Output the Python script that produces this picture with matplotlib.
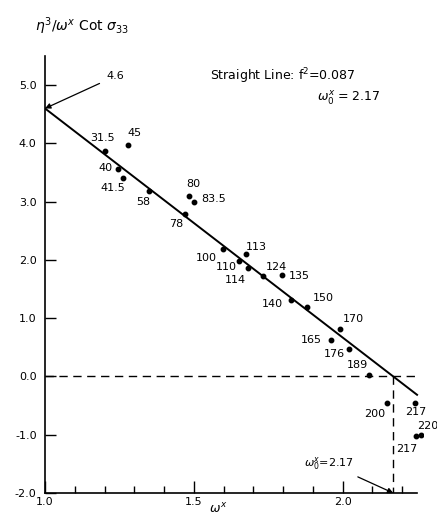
import numpy as np
import matplotlib.pyplot as plt

# values
labels = ['31.5', '45', '40', '41.5', '58', '80', '83.5', '78', '100', '113', '110', '114',
          '124', '135', '140', '150', '170', '165', '176', '189', '200', '217', '220', '217']
omega = [1.201, 1.279, 1.245, 1.262, 1.349, 1.483, 1.500, 1.470, 1.597, 1.674, 1.651, 1.683,
         1.731, 1.795, 1.825, 1.879, 1.990, 1.960, 2.020, 2.087, 2.148, 2.242, 2.262, 2.245]
ratio = [3.87, 3.97, 3.56, 3.40, 3.18, 3.09, 2.99, 2.78, 2.18, 2.10, 1.98, 1.87,
         1.72, 1.74, 1.32, 1.20, 0.82, 0.62, 0.48, 0.03, -0.45, -0.45, -1.00, -1.03]
# label offsets (points) from each point
offs = [(-2, 9), (5, 9), (-9, 1), (-7, -7), (-4, -8), (3, 9), (14, 2), (-6, -7), (-12, -6),
        (8, 5), (-9, -4), (-9, -9), (10, 7), (13, -1), (-13, -3), (12, 6), (10, 7), (-14, 0),
        (-10, -4), (-8, 7), (-9, -8), (1, -7), (5, 6), (-6, -9)]

intercept = 4.6
omega0 = 2.17
line_x = [1.0, 2.25]

fig = plt.figure(figsize=(4.37, 5.17), dpi=100)
ax = fig.add_axes([0.103, 0.0464, 0.865, 0.8453])

slope = -intercept / (omega0 - 1.0)
ax.plot(line_x, [intercept + slope * (x - 1.0) for x in line_x], color='black', lw=1.4)
ax.plot(omega, ratio, 'o', color='black', ms=3.2)
for lab, x, y, o in zip(labels, omega, ratio, offs):
    ax.annotate(lab, (x, y), xytext=o, textcoords='offset points', ha='center', va='center',
                fontsize=8, annotation_clip=False)

# dashed guides
ax.plot([1.0, 2.25], [0, 0], color='black', lw=1.0, ls=(0, (6, 4)))
ax.plot([omega0, omega0], [0, -2.0], color='black', lw=1.0, ls=(0, (6, 4)))

ax.annotate('4.6', (1.0, intercept), xytext=(1.235, 5.15), ha='center', va='center', fontsize=8,
            arrowprops=dict(arrowstyle='-|>', color='black', lw=0.9, shrinkA=3, shrinkB=0))
ax.annotate(r'$\omega_0^x$=2.17', (omega0, -2.0), xytext=(1.955, -1.5), ha='center', va='center',
            fontsize=8,
            arrowprops=dict(arrowstyle='-|>', color='black', lw=0.9, shrinkA=3, shrinkB=0))

ax.text(1.555, 5.16, r'Straight Line: f$^2$=0.087', fontsize=9, va='center')
ax.text(1.915, 4.78, r'$\omega_0^x$ = 2.17', fontsize=9, va='center')

ax.set_xlim(1.0, 2.27)
ax.set_ylim(-2.0, 5.5)
for s in ['top', 'right']:
    ax.spines[s].set_visible(False)
ax.spines['bottom'].set_bounds(1.0, 2.25)
ax.spines['left'].set_linewidth(1.2)
ax.spines['bottom'].set_linewidth(1.2)

ax.set_yticks([-2, -1, 0, 1, 2, 3, 4, 5])
ax.set_yticklabels(['-2.0', '-1.0', '0.0', '1.0', '2.0', '3.0', '4.0', '5.0'], fontsize=8)
ax.set_xticks([1.0, 1.5, 2.0])
ax.set_xticklabels(['1.0', '1.5', '2.0'], fontsize=8)
ax.set_xticks(np.arange(1.1, 2.25, 0.1), minor=True)
ax.tick_params(axis='y', direction='in', length=8, width=1.0, pad=6)
ax.tick_params(axis='x', which='major', direction='in', length=9, width=1.0, pad=3)
ax.tick_params(axis='x', which='minor', direction='in', length=5, width=1.0)

fig.text(0.08, 0.95, r'$\eta^3/\omega^x$ Cot $\sigma_{33}$', fontsize=10, va='center')
fig.text(0.50, 0.002, r'$\omega^x$', fontsize=9, ha='center', va='bottom')

fig.savefig('out.png', dpi=100)
